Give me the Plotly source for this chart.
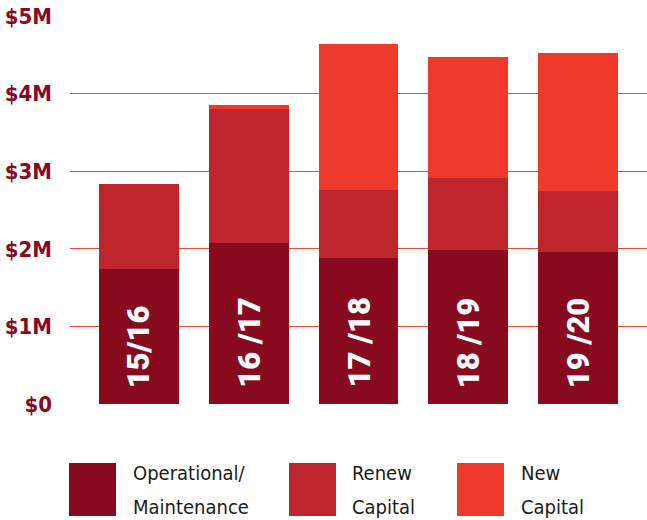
import plotly.graph_objects as go

years = ["15/16", "16 /17", "17 /18", "18 /19", "19 /20"]
operational = [1.74, 2.075, 1.88, 1.985, 1.96]
renew = [1.095, 1.725, 0.878, 0.927, 0.785]
new_cap = [0.0, 0.053, 1.881, 1.558, 1.778]

series_names = ["Operational/<br>Maintenance", "Renew<br>Capital", "New<br>Capital"]
colors = ["#870A1F", "#BF252D", "#EF392B"]
tick_vals = [0, 1, 2, 3, 4, 5]
tick_text = ["$0", "$1M", "$2M", "$3M", "$4M", "$5M"]

W, H = 647, 520
L, T, PW, PH = 70, 16, 577, 388


def px(x):
    return (x - L) / PW


def py(y):
    return (T + PH - y) / PH


xs = list(range(len(years)))
fig = go.Figure()
for vals, name, col in zip([operational, renew, new_cap], series_names, colors):
    fig.add_trace(go.Bar(x=xs, y=vals, name=name, marker=dict(color=col, line=dict(width=0)),
                         width=0.727, showlegend=False, hoverinfo="skip"))

for i, lab in enumerate(years):
    fig.add_annotation(x=i, y=0, xref="x", yref="y", text=lab, textangle=-90,
                       showarrow=False, yanchor="bottom", xanchor="center", yshift=14,
                       font=dict(family="Roboto", size=31, color="white", weight=900))

# legend (manual)
leg_x = [69, 289, 457]
leg_tx = [131, 350, 519]
legend_font = dict(family="DejaVu Sans Condensed", size=20, color="#1a1a1a")
for sx, tx, name, col in zip(leg_x, leg_tx, series_names, colors):
    fig.add_shape(type="rect", xref="paper", yref="paper",
                  x0=px(sx), x1=px(sx + 47), y0=py(516), y1=py(463),
                  fillcolor=col, line=dict(width=0))
    l1, l2 = name.split("<br>")
    fig.add_annotation(xref="paper", yref="paper", x=px(tx), y=py(472.5), text=l1,
                       showarrow=False, xanchor="left", yanchor="middle", font=legend_font)
    fig.add_annotation(xref="paper", yref="paper", x=px(tx), y=py(507), text=l2,
                       showarrow=False, xanchor="left", yanchor="middle", font=legend_font)

fig.update_layout(
    width=W, height=H, margin=dict(l=L, r=W - L - PW, t=T, b=H - T - PH, autoexpand=False),
    plot_bgcolor="white", paper_bgcolor="white", barmode="stack", bargap=0,
    xaxis=dict(range=[-0.627, 4.627], showticklabels=False, showgrid=False, zeroline=False,
               fixedrange=True, automargin=False),
    yaxis=dict(range=[0, 5], tickvals=tick_vals, ticktext=tick_text, showgrid=True, automargin=False,
               gridcolor="#EF4A3E", gridwidth=1.2, zeroline=False, ticklabelstandoff=17,
               tickfont=dict(family="DejaVu Sans Condensed", size=22, color="#870A1F", weight="bold")),
)
fig.write_html("out.html", config={"displayModeBar": False},
               post_script="document.body.style.margin='0';document.body.style.overflow='hidden';")
